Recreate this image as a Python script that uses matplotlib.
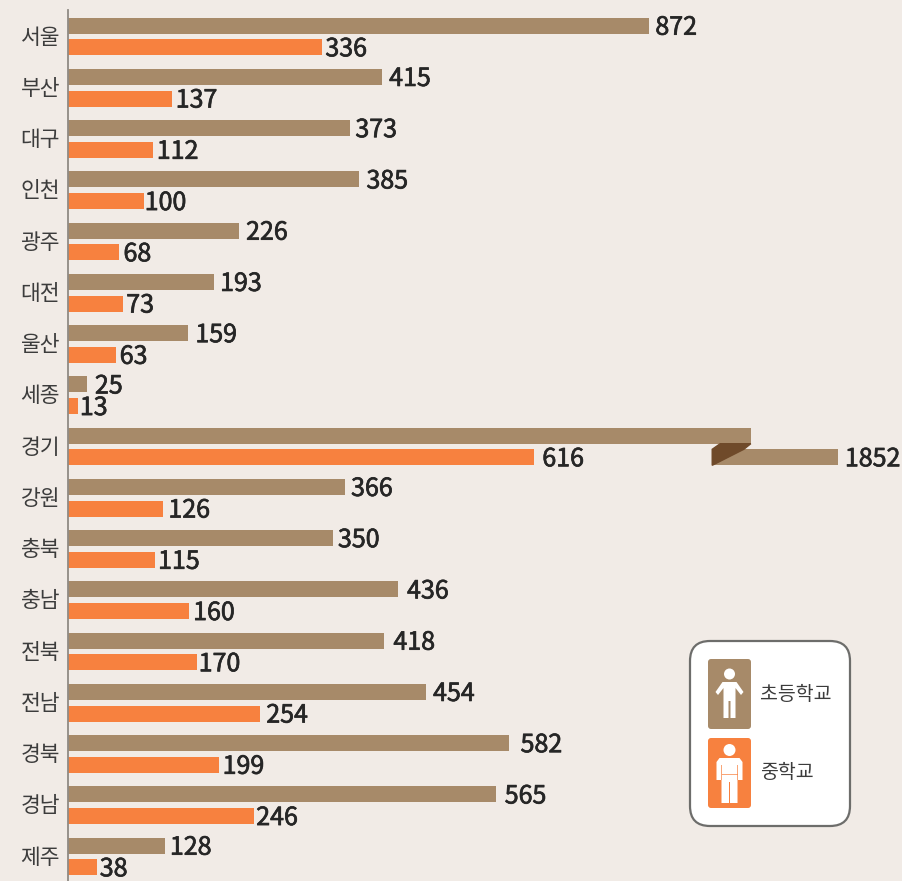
import matplotlib
matplotlib.use("Agg")
from matplotlib import pyplot as plt
from matplotlib import patheffects as pe
from matplotlib.patches import FancyBboxPatch, Polygon, Circle, Rectangle

plt.rcParams['font.family'] = ['Noto Sans CJK KR', 'DejaVu Sans']

regions = ["서울", "부산", "대구", "인천", "광주", "대전", "울산", "세종",
           "경기", "강원", "충북", "충남", "전북", "전남", "경북", "경남", "제주"]
elementary = [872, 415, 373, 385, 226, 193, 159, 25,
              1852, 366, 350, 436, 418, 454, 582, 565, 128]
middle = [336, 137, 112, 100, 68, 73, 63, 13,
          616, 126, 115, 160, 170, 254, 199, 246, 38]
# the original doesn't draw these to scale, so drawn length differs from the label
drawn_elementary = {"서울": 768, "경기": 902, "전남": 473}
gyeonggi_tail = (851, 1017)
legend_labels = ["초등학교", "중학교"]

# label gaps in px, read per row
gap_elem = [7, 8, 6, 8, 8, 7, 8, 9, 8, 7, 6, 10, 10, 8, 13, 10, 6]
gap_mid = [4, 5, 5, 2, 5, 4, 5, 3, 9, 6, 4, 5, 3, 7, 5, 3, 4]

BG = "#f1ebe6"
BROWN = "#a78a69"
ORANGE = "#f7813f"
DARK = "#6f4a2a"
TEXT = "#262626"
W, H = 902, 881
PX_PER_UNIT = 0.757
ROW = 51.25
ROW0 = 36.5

fig = plt.figure(figsize=(W / 100, H / 100), dpi=100, facecolor=BG)
ax = fig.add_axes([0, 0, 1, 1])
ax.set_xlim(-68 / PX_PER_UNIT, (W - 68) / PX_PER_UNIT)
ax.set_ylim((H - ROW0) / ROW, -ROW0 / ROW)
ax.axis('off')

bar_h = 16 / ROW
off = 10.8 / ROW
text_dy = 2 / ROW
thick = [pe.withStroke(linewidth=0.5, foreground=TEXT)]
ax.plot([0, 0], [-0.52, 16.9], color="#8f8a84", lw=1.3, zorder=3)


def value_label(x, y, value):
    ax.text(x, y, str(value), ha='left', va='center', fontsize=18, color=TEXT, path_effects=thick)


for i, name in enumerate(regions):
    e_len = drawn_elementary.get(name, elementary[i])
    ax.barh(i - off, e_len, height=bar_h, color=BROWN, zorder=2)
    ax.barh(i + off, middle[i], height=bar_h, color=ORANGE, zorder=2)
    ax.text(-8 / PX_PER_UNIT, i + 0.02, name, ha='right', va='center',
            fontsize=15.5, color="#3c3c3c")
    if name == "경기":
        left, right = gyeonggi_tail
        ax.barh(i + off, right - left, left=left, height=bar_h, color=BROWN, zorder=2)
        top_bottom = i - off + bar_h / 2
        tail_top = i + off - bar_h / 2
        tail_bottom = i + off + bar_h / 2
        ax.add_patch(Polygon([(left + 8 / PX_PER_UNIT, top_bottom), (e_len, top_bottom),
                              (e_len - 7 / PX_PER_UNIT, tail_top), (left, tail_bottom),
                              (left, tail_top)],
                             closed=True, color=DARK, zorder=3))
        value_label(right + (gap_elem[i] - 1) / PX_PER_UNIT, i + off + text_dy, elementary[i])
    else:
        value_label(e_len + (gap_elem[i] - 1) / PX_PER_UNIT, i - off + text_dy, elementary[i])
    value_label(middle[i] + (gap_mid[i] - 1) / PX_PER_UNIT, i + off + text_dy, middle[i])

# legend drawn in pixel coords on its own overlay
lg = fig.add_axes([0, 0, 1, 1])
lg.set_xlim(0, W)
lg.set_ylim(H, 0)
lg.axis('off')
lg.patch.set_alpha(0)
lg.add_patch(FancyBboxPatch((690, 641), 160, 185, boxstyle="round,pad=0,rounding_size=20",
                            fc="white", ec="#6d6d6b", lw=1.6))

cx = 729.5
# brown icon, slim figure
top = 659
lg.add_patch(FancyBboxPatch((cx - 21.5, top), 43, 70, boxstyle="round,pad=0,rounding_size=3",
                            fc=BROWN, ec="none"))
lg.add_patch(Circle((cx, top + 15), 5.5, fc="white", ec="none"))
lg.add_patch(Polygon([(cx - 7, top + 23), (cx + 7, top + 23), (cx + 14, top + 33),
                      (cx + 11.5, top + 36), (cx + 6, top + 29), (cx + 6, top + 59),
                      (cx + 1, top + 59), (cx + 1, top + 42), (cx - 1, top + 42),
                      (cx - 1, top + 59), (cx - 6, top + 59), (cx - 6, top + 29),
                      (cx - 11.5, top + 36), (cx - 14, top + 33)],
                     closed=True, fc="white", ec="none"))
# orange icon, wider figure with arm, waist and leg seams
top = 738
lg.add_patch(FancyBboxPatch((cx - 21.5, top), 43, 70, boxstyle="round,pad=0,rounding_size=3",
                            fc=ORANGE, ec="none"))
lg.add_patch(Circle((cx, top + 12), 6, fc="white", ec="none"))
lg.add_patch(Polygon([(cx - 10, top + 20), (cx + 10, top + 20), (cx + 13, top + 24),
                      (cx + 13, top + 42), (cx + 8, top + 42), (cx + 8, top + 65),
                      (cx - 8, top + 65), (cx - 8, top + 42), (cx - 13, top + 42),
                      (cx - 13, top + 24)],
                     closed=True, fc="white", ec="none"))
for dx in (-8.5, 7.5):
    lg.add_patch(Rectangle((cx + dx, top + 27), 1, 15, fc=ORANGE, ec="none", alpha=0.7))
lg.add_patch(Rectangle((cx - 8, top + 36), 16, 0.9, fc=ORANGE, ec="none", alpha=0.7))
lg.add_patch(Rectangle((cx - 0.6, top + 44), 1.2, 21, fc=ORANGE, ec="none"))

lg.text(760, 694.5, legend_labels[0], ha='left', va='center', fontsize=14, fontweight=500, color="#3c3c3c")
lg.text(760, 772.5, legend_labels[1], ha='left', va='center', fontsize=14, fontweight=500, color="#3c3c3c")

fig.savefig('out.png', dpi=100, facecolor=BG)
